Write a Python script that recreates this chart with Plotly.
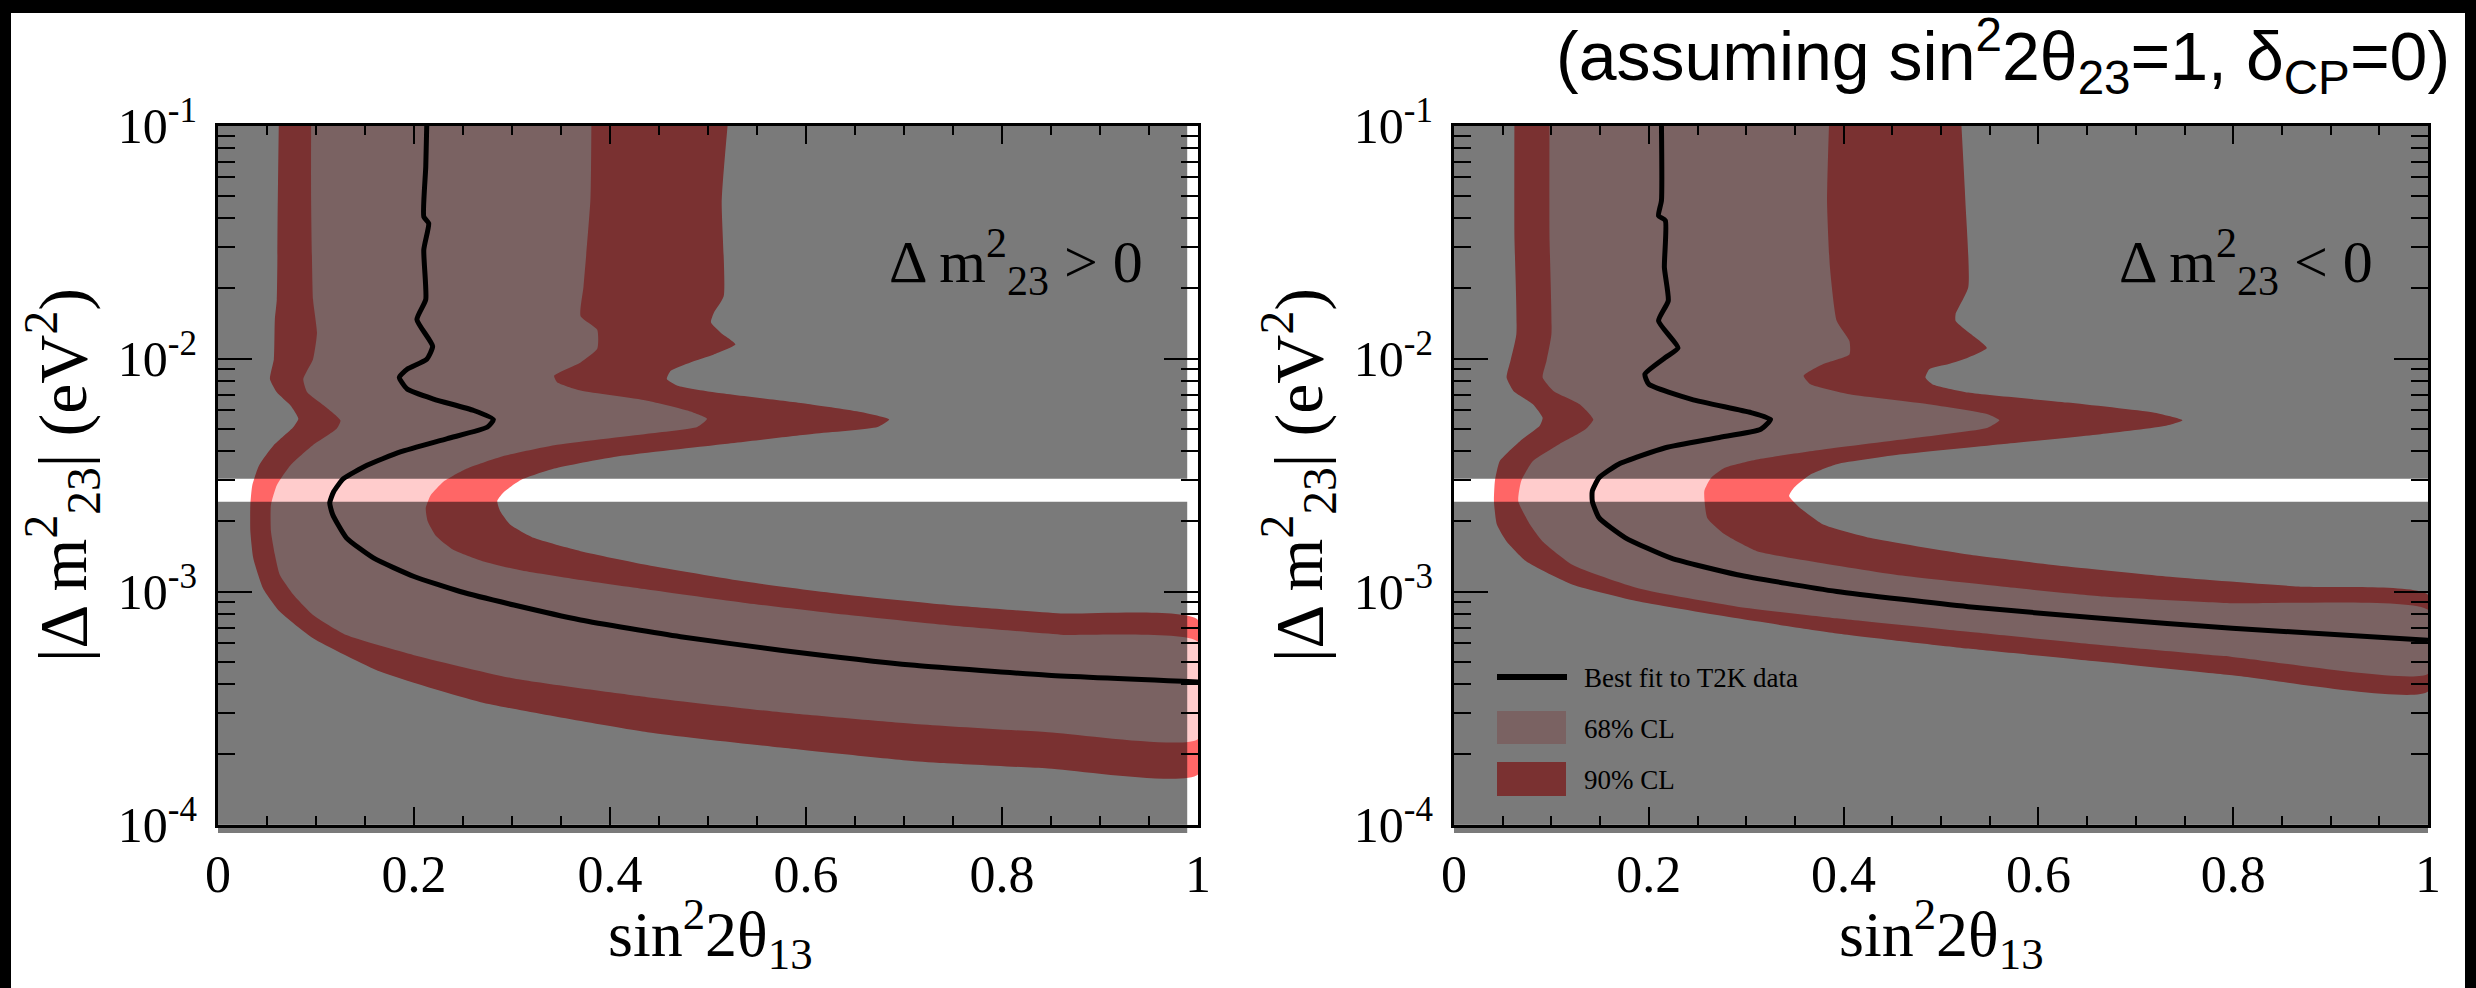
import plotly.graph_objects as go

W, H = 2476, 988

# ---------------- data (sin^2 2theta13, |dm^2_23| in eV^2) ----------------
# Left panel: dm^2_23 > 0
nh90_outer_x = [0.062, 0.061, 0.060, 0.058, 0.057, 0.053, 0.060, 0.074, 0.082, 0.077, 0.057, 0.042, 0.035,
                0.033, 0.033, 0.036, 0.046, 0.063, 0.097, 0.166, 0.268, 0.438, 0.574, 0.711, 0.847, 1.0]
nh90_outer_y = [1e-1, 4.79e-2, 1.79e-2, 1.47e-2, 9.93e-3, 8.17e-3, 7.16e-3, 6.28e-3, 5.51e-3, 5.08e-3, 4.25e-3,
                3.48e-3, 2.86e-3, 2.35e-3, 1.82e-3, 1.39e-3, 1.03e-3, 8.20e-4, 6.30e-4, 4.52e-4, 3.35e-4,
                2.49e-4, 2.14e-4, 1.87e-4, 1.74e-4, 1.64e-4]
nh90_inner_x = [0.520, 0.514, 0.516, 0.506, 0.503, 0.513, 0.528, 0.506, 0.482, 0.462, 0.458, 0.469, 0.506,
                0.602, 0.656, 0.685, 0.673, 0.608, 0.506, 0.404, 0.343, 0.309, 0.292, 0.285, 0.288, 0.298,
                0.322, 0.370, 0.438, 0.540, 0.642, 0.745, 0.860, 1.0]
nh90_inner_y = [1e-1, 4.79e-2, 1.85e-2, 1.57e-2, 1.43e-2, 1.29e-2, 1.15e-2, 1.04e-2, 9.62e-3, 8.85e-3, 8.17e-3,
                7.64e-3, 7.16e-3, 6.38e-3, 5.89e-3, 5.47e-3, 5.08e-3, 4.75e-3, 4.24e-3, 3.78e-3, 3.37e-3,
                3.01e-3, 2.68e-3, 2.45e-3, 2.21e-3, 1.94e-3, 1.70e-3, 1.49e-3, 1.30e-3, 1.10e-3, 9.68e-4,
                8.75e-4, 8.05e-4, 7.55e-4]
nh68_outer_x = [0.095, 0.095, 0.097, 0.101, 0.097, 0.087, 0.091, 0.108, 0.125, 0.121, 0.097, 0.074, 0.060,
                0.054, 0.054, 0.058, 0.063, 0.077, 0.097, 0.131, 0.200, 0.302, 0.438, 0.574, 0.711, 0.847, 1.0]
nh68_outer_y = [1e-1, 4.79e-2, 1.79e-2, 1.29e-2, 9.93e-3, 8.17e-3, 7.16e-3, 6.28e-3, 5.42e-3, 4.99e-3, 4.25e-3,
                3.48e-3, 2.86e-3, 2.35e-3, 1.82e-3, 1.44e-3, 1.18e-3, 9.68e-4, 7.93e-4, 6.50e-4, 5.33e-4,
                4.23e-4, 3.52e-4, 3.03e-4, 2.70e-4, 2.49e-4, 2.33e-4]
nh68_inner_x = [0.381, 0.380, 0.373, 0.370, 0.387, 0.387, 0.370, 0.343, 0.346, 0.370, 0.438, 0.479, 0.499,
                0.489, 0.438, 0.343, 0.288, 0.254, 0.230, 0.217, 0.212, 0.214, 0.222, 0.240, 0.270, 0.310,
                0.370, 0.438, 0.540, 0.642, 0.745, 0.860, 1.0]
nh68_inner_y = [1e-1, 4.79e-2, 2.04e-2, 1.52e-2, 1.33e-2, 1.10e-2, 9.62e-3, 8.43e-3, 7.91e-3, 7.28e-3, 6.59e-3,
                5.98e-3, 5.51e-3, 5.08e-3, 4.75e-3, 4.24e-3, 3.78e-3, 3.37e-3, 2.96e-3, 2.59e-3, 2.28e-3,
                2.00e-3, 1.74e-3, 1.51e-3, 1.35e-3, 1.23e-3, 1.12e-3, 1.02e-3, 8.91e-4, 7.94e-4, 7.16e-4,
                6.53e-4, 6.08e-4]
nh_best_x = [0.213, 0.212, 0.210, 0.215, 0.210, 0.212, 0.203, 0.219, 0.213, 0.193, 0.185, 0.193, 0.220, 0.261,
             0.281, 0.275, 0.234, 0.186, 0.152, 0.128, 0.118, 0.114, 0.117, 0.131, 0.159, 0.200, 0.247, 0.302,
             0.370, 0.472, 0.574, 0.711, 0.847, 1.0]
nh_best_y = [1e-1, 6.64e-2, 4.06e-2, 3.80e-2, 2.93e-2, 1.79e-2, 1.47e-2, 1.13e-2, 9.93e-3, 9.00e-3, 8.30e-3,
             7.40e-3, 6.70e-3, 5.98e-3, 5.47e-3, 5.08e-3, 4.53e-3, 3.97e-3, 3.48e-3, 3.05e-3, 2.68e-3, 2.40e-3,
             2.14e-3, 1.70e-3, 1.39e-3, 1.16e-3, 1.00e-3, 8.75e-4, 7.55e-4, 6.40e-4, 5.60e-4, 4.82e-4, 4.37e-4,
             4.09e-4]

# Right panel: dm^2_23 < 0
ih90_outer_x = [0.062, 0.062, 0.064, 0.058, 0.054, 0.061, 0.081, 0.091, 0.088, 0.068, 0.047, 0.042, 0.041,
                0.044, 0.054, 0.074, 0.122, 0.190, 0.291, 0.393, 0.528, 0.664, 0.799, 1.0]
ih90_outer_y = [1e-1, 3.42e-2, 1.27e-2, 9.77e-3, 8.28e-3, 7.26e-3, 6.37e-3, 5.57e-3, 5.14e-3, 4.43e-3, 3.63e-3,
                2.98e-3, 2.44e-3, 1.94e-3, 1.64e-3, 1.35e-3, 1.07e-3, 9.06e-4, 7.67e-4, 6.61e-4, 5.69e-4,
                4.99e-4, 4.37e-4, 3.72e-4]
ih90_inner_x = [0.521, 0.525, 0.528, 0.515, 0.515, 0.531, 0.547, 0.528, 0.508, 0.488, 0.484, 0.491, 0.528,
                0.630, 0.718, 0.748, 0.731, 0.664, 0.562, 0.460, 0.393, 0.366, 0.349, 0.344, 0.355, 0.379,
                0.427, 0.528, 0.630, 0.731, 0.867, 1.0]
ih90_inner_y = [1e-1, 4.76e-2, 2.02e-2, 1.55e-2, 1.45e-2, 1.27e-2, 1.11e-2, 1.01e-2, 9.46e-3, 9.00e-3, 8.28e-3,
                7.76e-3, 7.14e-3, 6.47e-3, 5.86e-3, 5.43e-3, 5.14e-3, 4.73e-3, 4.29e-3, 3.88e-3, 3.52e-3,
                3.18e-3, 2.79e-3, 2.57e-3, 2.29e-3, 1.94e-3, 1.70e-3, 1.44e-3, 1.28e-3, 1.16e-3, 1.05e-3,
                9.68e-4]
ih68_outer_x = [0.098, 0.098, 0.100, 0.095, 0.091, 0.102, 0.129, 0.143, 0.135, 0.108, 0.081, 0.069, 0.066,
                0.078, 0.091, 0.122, 0.190, 0.291, 0.393, 0.528, 0.664, 0.799, 1.0]
ih68_outer_y = [1e-1, 3.42e-2, 1.27e-2, 9.77e-3, 8.28e-3, 7.26e-3, 6.37e-3, 5.48e-3, 4.97e-3, 4.29e-3, 3.63e-3,
                2.98e-3, 2.44e-3, 1.94e-3, 1.64e-3, 1.30e-3, 1.03e-3, 8.61e-4, 7.67e-4, 6.71e-4, 5.89e-4,
                5.24e-4, 4.44e-4]
ih68_inner_x = [0.385, 0.383, 0.386, 0.393, 0.406, 0.406, 0.379, 0.359, 0.366, 0.406, 0.487, 0.548, 0.560,
                0.548, 0.474, 0.379, 0.311, 0.278, 0.264, 0.257, 0.260, 0.278, 0.311, 0.366, 0.460, 0.562,
                0.663, 0.799, 1.0]
ih68_inner_y = [1e-1, 4.76e-2, 2.46e-2, 1.45e-2, 1.19e-2, 1.04e-2, 9.46e-3, 8.43e-3, 7.76e-3, 7.03e-3, 6.37e-3,
                5.77e-3, 5.43e-3, 5.05e-3, 4.57e-3, 4.07e-3, 3.69e-3, 3.40e-3, 3.08e-3, 2.70e-3, 2.07e-3,
                1.76e-3, 1.49e-3, 1.35e-3, 1.17e-3, 1.05e-3, 9.55e-4, 8.91e-4, 8.34e-4]
ih_best_x = [0.213, 0.213, 0.210, 0.217, 0.216, 0.220, 0.210, 0.230, 0.217, 0.196, 0.200, 0.244, 0.305, 0.325,
             0.315, 0.271, 0.217, 0.169, 0.149, 0.142, 0.142, 0.149, 0.176, 0.223, 0.291, 0.393, 0.528, 0.664,
             0.799, 1.0]
ih_best_y = [1e-1, 4.76e-2, 4.10e-2, 3.91e-2, 2.46e-2, 1.77e-2, 1.45e-2, 1.11e-2, 1.01e-2, 8.57e-3, 7.76e-3,
             6.68e-3, 5.86e-3, 5.48e-3, 4.97e-3, 4.57e-3, 4.14e-3, 3.52e-3, 3.08e-3, 2.70e-3, 2.44e-3, 2.07e-3,
             1.70e-3, 1.39e-3, 1.18e-3, 1.00e-3, 8.61e-4, 7.67e-4, 6.95e-4, 6.18e-4]

# Delta m^2 range left unshaded (white stripe)
band_lo, band_hi = 2.43e-3, 3.05e-3

x_ticks = [0, 0.2, 0.4, 0.6, 0.8, 1]
x_ticklabels = ["0", "0.2", "0.4", "0.6", "0.8", "1"]
y_ticks = [1e-4, 1e-3, 1e-2, 1e-1]
y_ticklabels = ["10<sup>-4</sup>", "10<sup>-3</sup>", "10<sup>-2</sup>", "10<sup>-1</sup>"]
legend_labels = ["Best fit to T2K data", "68% CL", "90% CL"]

# ---------------- styling ----------------
SERIF = "Liberation Serif, Times New Roman, serif"
SANS = "Liberation Sans, Arial, sans-serif"
C90 = "#ff6666"
C68 = "#ffcccc"
SHADE = "rgba(0,0,0,0.52)"
C68_SHADED = "rgb(122,98,98)"
C90_SHADED = "rgb(122,49,49)"


def px(x):
    return x / W


def py(y):
    return 1 - y / H


fig = go.Figure()

panels = [
    dict(xa="x", ya="y", o90=(nh90_outer_x, nh90_outer_y), i90=(nh90_inner_x, nh90_inner_y),
         o68=(nh68_outer_x, nh68_outer_y), i68=(nh68_inner_x, nh68_inner_y), best=(nh_best_x, nh_best_y),
         shade_x1=0.989),
    dict(xa="x2", ya="y2", o90=(ih90_outer_x, ih90_outer_y), i90=(ih90_inner_x, ih90_inner_y),
         o68=(ih68_outer_x, ih68_outer_y), i68=(ih68_inner_x, ih68_inner_y), best=(ih_best_x, ih_best_y),
         shade_x1=1.01),
]

for p in panels:
    for key_o, key_i, col in (("o90", "i90", C90), ("o68", "i68", C68)):
        ox, oy = p[key_o]
        ix, iy = p[key_i]
        fig.add_trace(go.Scatter(
            x=list(ox) + list(ix)[::-1], y=list(oy) + list(iy)[::-1],
            fill="toself", fillcolor=col, mode="lines",
            line=dict(width=0, color=col, shape="spline", smoothing=0.5),
            hoverinfo="skip", showlegend=False, xaxis=p["xa"], yaxis=p["ya"]))
    # grey shading everywhere except the stripe
    x1 = p["shade_x1"]
    fig.add_trace(go.Scatter(
        x=[-0.01, x1, x1, -0.01, -0.01, None, -0.01, x1, x1, -0.01, -0.01],
        y=[5e-5, 5e-5, band_lo, band_lo, 5e-5, None, band_hi, band_hi, 0.2, 0.2, band_hi],
        fill="toself", fillcolor=SHADE, mode="lines", line=dict(width=0),
        hoverinfo="skip", showlegend=False, xaxis=p["xa"], yaxis=p["ya"]))
    bx, by = p["best"]
    fig.add_trace(go.Scatter(
        x=bx, y=by, mode="lines", line=dict(color="black", width=5, shape="spline", smoothing=0.5),
        hoverinfo="skip", showlegend=False, xaxis=p["xa"], yaxis=p["ya"]))

x_minor = [v / 100 for v in range(5, 100, 5) if v % 20 != 0]
y_minor = [k * 10 ** d for d in (-4, -3, -2) for k in range(2, 10)]

xcommon = dict(range=[0, 1], tickmode="array", tickvals=x_ticks, ticktext=x_ticklabels,
               ticks="inside", ticklen=18, tickwidth=2, tickcolor="black",
               showline=True, linecolor="black", linewidth=3, mirror="allticks",
               showgrid=False, zeroline=False, ticklabelstandoff=2, automargin=False,
               tickfont=dict(family=SERIF, size=52, color="black"),
               minor=dict(tickmode="array", tickvals=x_minor, ticks="inside", ticklen=9, tickwidth=2,
                          tickcolor="black", showgrid=False))
ycommon = dict(type="log", range=[-4, -1], tickmode="array", tickvals=y_ticks, ticktext=y_ticklabels,
               ticks="inside", ticklen=34, tickwidth=2, tickcolor="black",
               showline=True, linecolor="black", linewidth=3, mirror="allticks",
               showgrid=False, zeroline=False, ticklabelstandoff=8, automargin=False,
               tickfont=dict(family=SERIF, size=50, color="black"),
               minor=dict(tickmode="array", tickvals=y_minor, ticks="inside", ticklen=17, tickwidth=2,
                          tickcolor="black", showgrid=False))

ydom = [py(824.5), py(125.5)]
fig.update_layout(
    width=W, height=H, margin=dict(l=0, r=0, t=0, b=0, pad=0, autoexpand=False),
    paper_bgcolor="white", plot_bgcolor="white", showlegend=False,
    xaxis=dict(domain=[px(218), px(1198)], anchor="y", **xcommon),
    yaxis=dict(domain=ydom, anchor="x", **ycommon),
    xaxis2=dict(domain=[px(1454), px(2428)], anchor="y2", **xcommon),
    yaxis2=dict(domain=ydom, anchor="x2", **ycommon),
)

shapes = [
    # black page borders
    dict(type="rect", xref="paper", yref="paper", x0=0, x1=px(11), y0=0, y1=1,
         fillcolor="black", line=dict(width=0)),
    dict(type="rect", xref="paper", yref="paper", x0=0, x1=1, y0=py(13), y1=1,
         fillcolor="black", line=dict(width=0)),
    dict(type="rect", xref="paper", yref="paper", x0=px(2465), x1=1, y0=0, y1=1,
         fillcolor="black", line=dict(width=0)),
    # grey shadow strip under the frames
    dict(type="rect", xref="x domain", yref="y domain", x0=0, x1=0.989, y0=-0.012, y1=0,
         fillcolor="rgb(122,122,122)", line=dict(width=0), layer="below"),
    dict(type="rect", xref="x2 domain", yref="y2 domain", x0=0, x1=1, y0=-0.012, y1=0,
         fillcolor="rgb(122,122,122)", line=dict(width=0), layer="below"),
    # legend symbols (right panel)
    dict(type="line", xref="paper", yref="paper", x0=px(1497), x1=px(1567), y0=py(677), y1=py(677),
         line=dict(color="black", width=6)),
    dict(type="rect", xref="paper", yref="paper", x0=px(1497), x1=px(1566), y0=py(744), y1=py(711),
         fillcolor=C68_SHADED, line=dict(width=0)),
    dict(type="rect", xref="paper", yref="paper", x0=px(1497), x1=px(1566), y0=py(796), y1=py(762),
         fillcolor=C90_SHADED, line=dict(width=0)),
]
fig.update_layout(shapes=shapes)

ann = []
for lab, yc in zip(legend_labels, (678, 729, 780)):
    ann.append(dict(text=lab, xref="paper", yref="paper", x=px(1582), y=py(yc), xanchor="left",
                    yanchor="middle", showarrow=False, font=dict(family=SERIF, size=27, color="black")))

# panel labels
ann.append(dict(text="Δ m<sup>2</sup><sub>23</sub> &gt; 0", xref="paper", yref="paper", x=px(1145), y=py(262),
                xanchor="right", yanchor="middle", showarrow=False,
                font=dict(family=SERIF, size=60, color="black")))
ann.append(dict(text="Δ m<sup>2</sup><sub>23</sub> &lt; 0", xref="paper", yref="paper", x=px(2375), y=py(262),
                xanchor="right", yanchor="middle", showarrow=False,
                font=dict(family=SERIF, size=60, color="black")))

# axis titles
for xc in (710, 1941):
    ann.append(dict(text="sin<sup>2</sup>2θ<sub>13</sub>", xref="paper", yref="paper", x=px(xc), y=py(934),
                    xanchor="center", yanchor="middle", showarrow=False,
                    font=dict(family=SERIF, size=64, color="black")))
for xc in (62, 1298):
    ann.append(dict(text="|Δ m<sup>2</sup><sub>23</sub>| (eV<sup>2</sup>)", xref="paper", yref="paper",
                    x=px(xc), y=py(475), xanchor="center", yanchor="middle", textangle=-90,
                    showarrow=False, font=dict(family=SERIF, size=68, color="black")))

# top-right title
ann.append(dict(text="(assuming sin<sup>2</sup>2θ<sub>23</sub>=1, δ<sub>CP</sub>=0)", xref="paper", yref="paper",
                x=px(2452), y=py(56), xanchor="right", yanchor="middle", showarrow=False,
                font=dict(family=SANS, size=68, color="black")))

fig.update_layout(annotations=ann)
fig.write_html("out.html",
               post_script="document.body.style.margin='0px';document.body.style.overflow='hidden';")
